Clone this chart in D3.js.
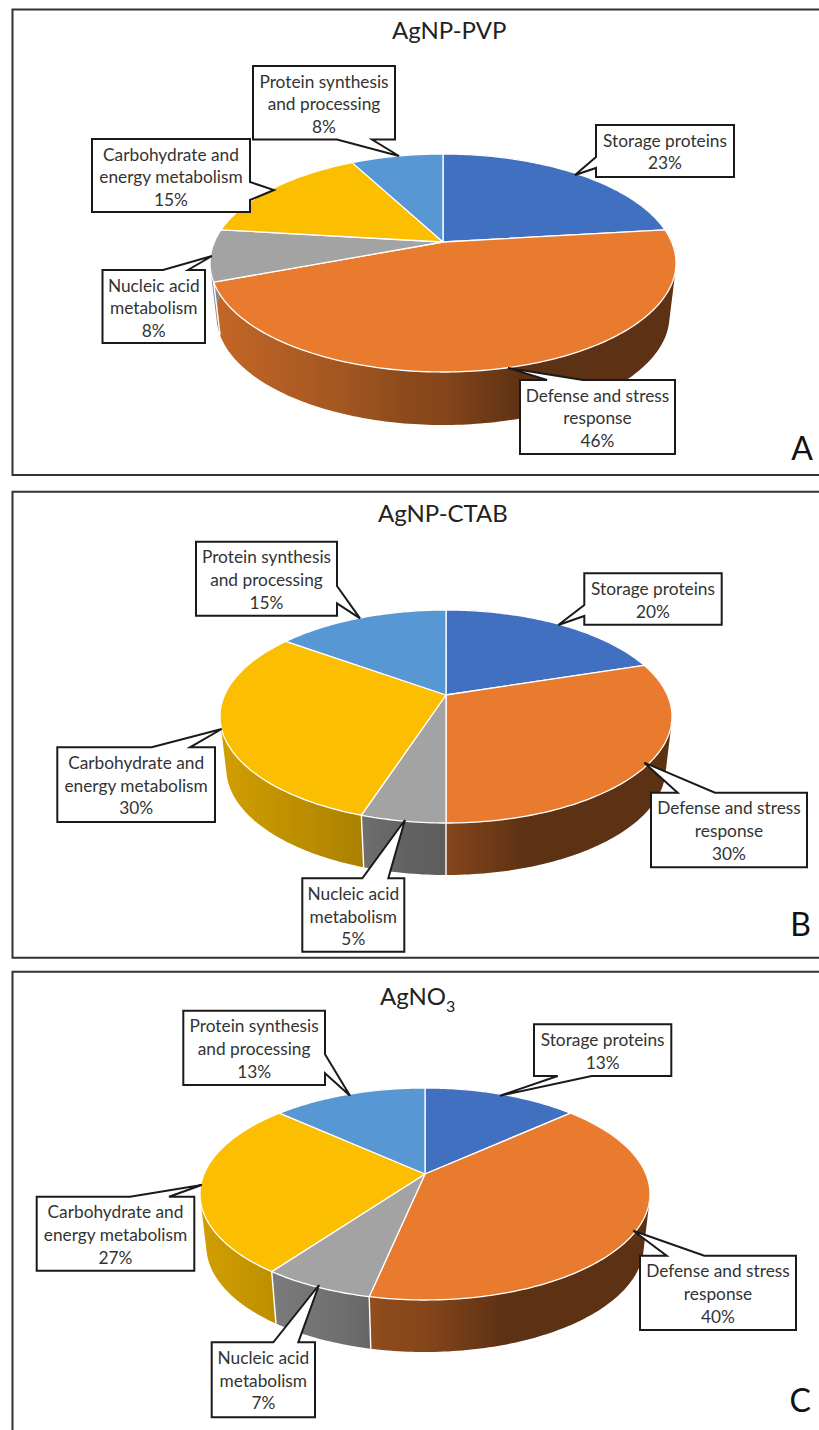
<!DOCTYPE html>
<html><head><meta charset="utf-8">
<script src="https://cdn.jsdelivr.net/npm/d3@7"></script>
<style>html,body{margin:0;padding:0;background:#fff}svg{display:block}text{font-family:Lato,"Open Sans",sans-serif}</style>
</head><body><svg id="c" width="819" height="1430"></svg>
<script>
// ---- data ----
const categories = ["Storage proteins","Defense and stress response","Nucleic acid metabolism","Carbohydrate and energy metabolism","Protein synthesis and processing"];
const labelLines = [["Storage proteins"],["Defense and stress","response"],["Nucleic acid","metabolism"],["Carbohydrate and","energy metabolism"],["Protein synthesis","and processing"]];
const valuesPVP  = [23.1,46.1,7.7,15.4,7.7];
const valuesCTAB = [20,30,5,30,15];
const valuesNO3  = [13.3,40,6.7,26.7,13.3];
const titles = ["AgNP-PVP","AgNP-CTAB","AgNO"];
const panelLetters = ["A","B","C"];
const sliceColors = ["#4270C0","#E97B2F","#A3A3A3","#FBBE00","#5797D4"];

// ---- layout (not data) ----
const geom = [
 {cx:443,cy:242,back:88,front:130,halfW:233,depth:53},
 {cx:446,cy:695,back:85,front:128,halfW:226,depth:52},
 {cx:425,cy:1174,back:86,front:126,halfW:225,depth:52}];
const frames = [{top:9.5,bottom:475},{top:491.7,bottom:957.7},{top:971.7,bottom:null}];
const titleLayout = [{x:392,y:39},{x:378,y:522},{x:380,y:1005}];
const letterLayout = [{x:813,y:460},{x:811,y:936},{x:811,y:1411.5}];
const callouts = [
 [{b:[596,734,125,177],s:"l",a:[157,168],t:[575,175]},
  {b:[520,675,380,454],s:"t",a:[547,583],t:[508,368]},
  {b:[102.5,205,270,343],s:"t",a:[163,188],t:[212,256]},
  {b:[92,250,139,212],s:"r",a:[182,200],t:[274,190]},
  {b:[253,395,66,139.5],s:"b",a:[337,372],t:[399,156]}],
 [{b:[584.3,721.7,573.3,624.7],s:"l",a:[605,616],t:[558.3,625]},
  {b:[651,807,792.7,867.3],s:"t",a:[677.7,715],t:[644.3,762.7]},
  {b:[302.3,404.3,878.3,951.7],s:"t",a:[362.3,388.3],t:[405,820]},
  {b:[57.3,215,747.3,822],s:"t",a:[151.7,190],t:[221.7,729]},
  {b:[196,337,541.7,615.7],s:"r",a:[586,603.3],t:[360,618.3]}],
 [{b:[534,671.3,1024.3,1076],s:"b",a:[557.7,591.7],t:[500,1095.7]},
  {b:[640,796,1255.7,1330],s:"t",a:[666.7,704.3],t:[633.3,1230.7]},
  {b:[211.7,315,1342.3,1417.3],s:"t",a:[273.3,298.3],t:[319,1285]},
  {b:[36.7,194.3,1196.7,1270.7],s:"t",a:[130,169],t:[201.7,1185]},
  {b:[183.3,325,1010.7,1085],s:"r",a:[1054.3,1073.3],t:[350,1095.7]}]];
const allValues = [valuesPVP,valuesCTAB,valuesNO3];

const svg = d3.select("#c");
const defs = svg.append("defs");
const pie = d3.pie().sort(null).value(d=>d);
const line = d3.line();
const shade = d3.scaleLinear().domain([-230,-85,-40,0,80]).range([.84,.68,.6,.57,.4]).clamp(true);
const pct = d3.format(".0f");
const TXT="#333";

function projector(g){
  const k=(g.front-g.back)/(g.front+g.back);
  const S=g.back*(1+k), R=g.halfW*Math.sqrt(1-k*k);
  return (a,bottom)=>{
    const u=Math.sin(a), v=-Math.cos(a), w=1-k*v;
    const sx=bottom?0.972:1;
    return [g.cx+sx*R*u/w, g.cy+(bottom?g.depth:0)+S*v/w];
  };
}
function arcAngles(d){
  const n=Math.max(2,Math.ceil((d.endAngle-d.startAngle)/(Math.PI/180)));
  return d3.range(n+1).map(i=>d.startAngle+(d.endAngle-d.startAngle)*i/n);
}
// swept side of a slice: one same-wound quad per step, so the silhouette is filled too
function sidePath(d,P){
  const as=arcAngles(d); let out="";
  for(let i=0;i<as.length-1;i++){
    let q=[P(as[i],false),P(as[i+1],false),P(as[i+1],true),P(as[i],true)];
    if(d3.polygonArea(q)<0) q=q.reverse();
    out+=line(q)+"Z";
  }
  return out;
}

allValues.forEach((vals,pi)=>{
  const g=geom[pi], P=projector(g), f=frames[pi];
  const G=svg.append("g");
  const fp=[[819,f.top],[12.5,f.top],[12.5,f.bottom===null?1430:f.bottom]];
  if(f.bottom!==null) fp.push([819,f.bottom]);
  G.append("path").attr("d",line(fp)).attr("fill","none").attr("stroke","#333").attr("stroke-width",2);

  const arcs=pie(vals);
  arcs.forEach((d,i)=>{
    const id=`side${pi}_${i}`;
    const lg=defs.append("linearGradient").attr("id",id).attr("gradientUnits","userSpaceOnUse")
      .attr("x1",g.cx-230).attr("x2",g.cx+80).attr("y1",0).attr("y2",0);
    const base=d3.rgb(sliceColors[i]);
    shade.domain().forEach(dx=>{
      const s=shade(dx);
      lg.append("stop").attr("offset",(dx+230)/310)
        .attr("stop-color",d3.rgb(base.r*s,base.g*s,base.b*s).formatHex());
    });
  });
  G.selectAll(".side").data(arcs).join("path").attr("class","side")
    .attr("d",d=>sidePath(d,P))
    .attr("fill",(d,i)=>`url(#side${pi}_${i})`);
  // white seams between slices on the visible side
  G.selectAll(".seam").data(arcs.filter(d=>-Math.cos(d.startAngle)>0)).join("path").attr("class","seam")
    .attr("d",d=>line([P(d.startAngle,false),P(d.startAngle,true)]))
    .attr("stroke","#fff").attr("stroke-width",1.4).attr("fill","none");
  G.selectAll(".top").data(arcs).join("path").attr("class","top")
    .attr("d",d=>line([[g.cx,g.cy]].concat(arcAngles(d).map(a=>P(a,false))))+"Z")
    .attr("fill",(d,i)=>sliceColors[i])
    .attr("stroke","#fff").attr("stroke-width",1.3).attr("stroke-linejoin","round");

  const tt=G.append("text").attr("x",titleLayout[pi].x).attr("y",titleLayout[pi].y)
    .attr("font-size",24).attr("fill","#222");
  tt.append("tspan").text(titles[pi]);
  if(pi===2) tt.append("tspan").attr("dy",7).attr("font-size",16).text("3");
  G.append("text").attr("x",letterLayout[pi].x).attr("y",letterLayout[pi].y)
    .attr("text-anchor","end").attr("font-size",32).attr("fill","#111").text(panelLetters[pi]);

  arcs.forEach((d,i)=>{
    const c=callouts[pi][i],[x0,x1,y0,y1]=c.b,[a,b]=c.a,t=c.t;
    let pts;
    if(c.s==="t") pts=[[x0,y0],[a,y0],t,[b,y0],[x1,y0],[x1,y1],[x0,y1]];
    if(c.s==="r") pts=[[x0,y0],[x1,y0],[x1,a],t,[x1,b],[x1,y1],[x0,y1]];
    if(c.s==="b") pts=[[x0,y0],[x1,y0],[x1,y1],[b,y1],t,[a,y1],[x0,y1]];
    if(c.s==="l") pts=[[x0,y0],[x1,y0],[x1,y1],[x0,y1],[x0,b],t,[x0,a]];
    G.append("path").attr("d",line(pts)+"Z").attr("fill","#fff")
      .attr("stroke","#1a1a1a").attr("stroke-width",2).attr("stroke-linejoin","miter");
    labelLines[i].concat([pct(d.value)+"%"]).forEach((s,j)=>{
      G.append("text").attr("x",(x0+x1)/2).attr("y",y0+21.6+j*22.7)
        .attr("text-anchor","middle").attr("font-size",17.3).attr("fill",TXT).text(s);
    });
  });
});
</script></body></html>
